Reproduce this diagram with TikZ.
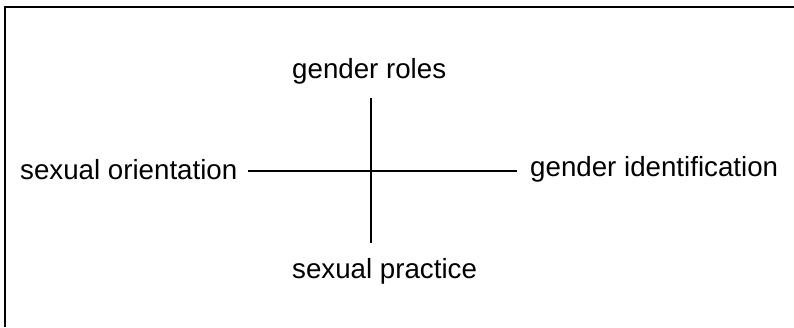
\documentclass[tikz,border=0pt]{standalone}
\usepackage{fontspec}
\setmainfont{Liberation Sans}
\begin{document}
\begin{tikzpicture}[x=1pt,y=-1pt,
  lbl/.style={inner sep=0pt,font=\fontsize{27.7}{32}\selectfont},
  axis/.style={line width=2pt,line cap=butt},
  frame/.style={line width=2pt}]
\useasboundingbox (0,0) rectangle (794,327);
\fill[white] (0,0) rectangle (794,327);
% frame (top and left edges only)
\coordinate (f1) at (5,327);
\coordinate (f2) at (5,7);
\coordinate (f3) at (794,7);
\draw[frame] (f1) -- (f2) -- (f3);
% labels
\node[lbl,anchor=base west] (gr) at (292,78) {gender roles};
\node[lbl,anchor=base west] (sp) at (292,278) {sexual practice};
\node[lbl,anchor=base west] (so) at (20,179) {sexual orientation};
\node[lbl,anchor=base west] (gi) at (530,176) {gender identification};
% cross
\coordinate (c) at (371,171);
\coordinate (vt) at (371,98);
\coordinate (vb) at (371,243);
\draw[axis] ([xshift=10pt]so.east |- c) -- ([xshift=-13pt]gi.west |- c);
\draw[axis,line width=2.3pt] (vt) -- (vb);
\end{tikzpicture}
\end{document}
